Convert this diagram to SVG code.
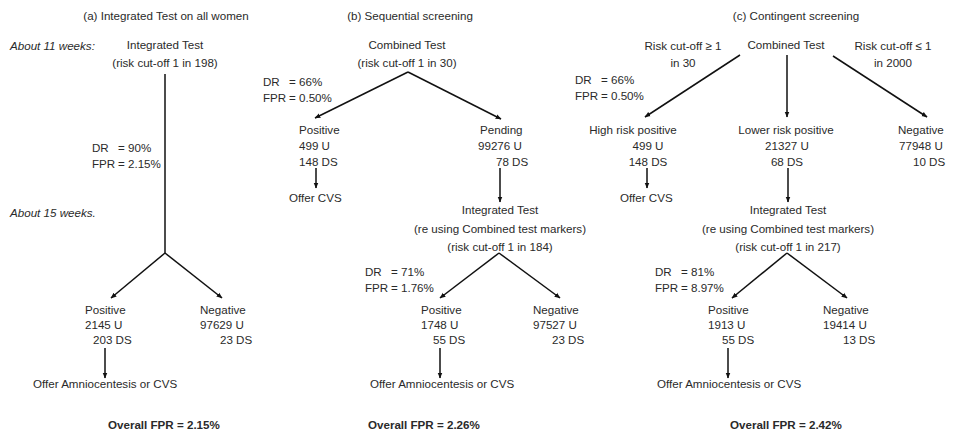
<svg xmlns="http://www.w3.org/2000/svg" width="955" height="431" viewBox="0 0 955 431">
<style>
text{font-family:"Liberation Sans",Arial,sans-serif;font-size:11.6px;fill:#2a2a2a}
.c{text-anchor:middle}
.i{font-style:italic}
.b{font-weight:bold}
.ln{stroke:#111;stroke-width:1.5;fill:none}
</style>
<defs>
<marker id="ah" viewBox="0 0 10 10" refX="9" refY="5" markerWidth="6" markerHeight="6" orient="auto" markerUnits="userSpaceOnUse">
<path d="M0,1 L10,5 L0,9 z" fill="#111"/>
</marker>
</defs>
<rect width="955" height="431" fill="#fff"/>

<g id="connectors">
<!-- (a) -->
<line class="ln" x1="165" y1="74" x2="165" y2="253"/>
<line class="ln" x1="165" y1="253" x2="111" y2="298" marker-end="url(#ah)"/>
<line class="ln" x1="165" y1="253" x2="222" y2="298" marker-end="url(#ah)"/>
<line class="ln" x1="105" y1="348" x2="105" y2="378" marker-end="url(#ah)"/>
<!-- (b) -->
<line class="ln" x1="408" y1="72" x2="315" y2="118" marker-end="url(#ah)"/>
<line class="ln" x1="408" y1="72" x2="501" y2="119" marker-end="url(#ah)"/>
<line class="ln" x1="316" y1="168" x2="316" y2="188" marker-end="url(#ah)"/>
<line class="ln" x1="500" y1="168" x2="500" y2="202" marker-end="url(#ah)"/>
<line class="ln" x1="499" y1="253" x2="440" y2="298" marker-end="url(#ah)"/>
<line class="ln" x1="499" y1="253" x2="560" y2="298" marker-end="url(#ah)"/>
<line class="ln" x1="440" y1="348" x2="440" y2="378" marker-end="url(#ah)"/>
<!-- (c) -->
<line class="ln" x1="740" y1="55" x2="645" y2="117" marker-end="url(#ah)"/>
<line class="ln" x1="787" y1="55" x2="787" y2="117" marker-end="url(#ah)"/>
<line class="ln" x1="833" y1="56" x2="927" y2="117" marker-end="url(#ah)"/>
<line class="ln" x1="647" y1="168" x2="647" y2="188" marker-end="url(#ah)"/>
<line class="ln" x1="788" y1="168" x2="788" y2="202" marker-end="url(#ah)"/>
<line class="ln" x1="787" y1="253" x2="732" y2="298" marker-end="url(#ah)"/>
<line class="ln" x1="787" y1="253" x2="847" y2="298" marker-end="url(#ah)"/>
<line class="ln" x1="728" y1="348" x2="728" y2="378" marker-end="url(#ah)"/>
</g>

<!-- Panel (a) -->
<g id="a-title"><text class="c" x="166" y="20">(a) Integrated Test on all women</text></g>
<g id="a-week11"><text class="i" x="10" y="50">About 11 weeks:</text></g>
<g id="a-test"><text class="c" x="165" y="49">Integrated Test</text><text class="c" x="165" y="67">(risk cut-off 1 in 198)</text></g>
<g id="a-rates"><text x="92" y="152">DR<tspan x="118">= 90%</tspan></text><text x="92" y="168">FPR<tspan x="118">= 2.15%</tspan></text></g>
<g id="a-week15"><text class="i" x="10" y="217">About 15 weeks.</text></g>
<g id="a-pos"><text x="85" y="314">Positive</text><text x="85" y="329">2145 U</text><text x="93" y="344">203 DS</text></g>
<g id="a-neg"><text x="200" y="314">Negative</text><text x="200" y="329">97629 U</text><text x="220" y="344">23 DS</text></g>
<g id="a-offer"><text x="33" y="388">Offer Amniocentesis or CVS</text></g>
<g id="a-overall"><text class="b" x="108" y="429">Overall FPR = 2.15%</text></g>

<!-- Panel (b) -->
<g id="b-title"><text class="c" x="410" y="20">(b) Sequential screening</text></g>
<g id="b-test"><text class="c" x="407" y="49">Combined Test</text><text class="c" x="407" y="67">(risk cut-off 1 in 30)</text></g>
<g id="b-rates1"><text x="263" y="86">DR<tspan x="289">= 66%</tspan></text><text x="263" y="102">FPR<tspan x="289">= 0.50%</tspan></text></g>
<g id="b-pos"><text x="299" y="134">Positive</text><text x="299" y="150">499 U</text><text x="299" y="166">148 DS</text></g>
<g id="b-offercvs"><text x="289" y="202">Offer CVS</text></g>
<g id="b-pend"><text x="480" y="134">Pending</text><text x="478" y="150">99276 U</text><text x="496" y="166">78 DS</text></g>
<g id="b-int"><text class="c" x="500" y="214">Integrated Test</text><text class="c" x="500" y="233">(re using Combined test markers)</text><text class="c" x="500" y="251">(risk cut-off 1 in 184)</text></g>
<g id="b-rates2"><text x="365" y="276">DR<tspan x="391">= 71%</tspan></text><text x="365" y="292">FPR<tspan x="391">= 1.76%</tspan></text></g>
<g id="b-pos2"><text x="421" y="314">Positive</text><text x="421" y="329">1748 U</text><text x="433" y="344">55 DS</text></g>
<g id="b-neg2"><text x="533" y="314">Negative</text><text x="533" y="329">97527 U</text><text x="552" y="344">23 DS</text></g>
<g id="b-offer"><text x="370" y="388">Offer Amniocentesis or CVS</text></g>
<g id="b-overall"><text class="b" x="368" y="429">Overall FPR = 2.26%</text></g>

<!-- Panel (c) -->
<g id="c-title"><text class="c" x="796" y="20">(c) Contingent screening</text></g>
<g id="c-test"><text class="c" x="786" y="49">Combined Test</text></g>
<g id="c-cut1"><text class="c" x="683" y="50">Risk cut-off ≥ 1</text><text class="c" x="683" y="67">in 30</text></g>
<g id="c-cut2"><text class="c" x="893" y="50">Risk cut-off ≤ 1</text><text class="c" x="893" y="67">in 2000</text></g>
<g id="c-rates1"><text x="575" y="84">DR<tspan x="601">= 66%</tspan></text><text x="575" y="100">FPR<tspan x="601">= 0.50%</tspan></text></g>
<g id="c-high"><text class="c" x="633" y="134">High risk positive</text><text class="c" x="648" y="150">499 U</text><text class="c" x="648" y="166">148 DS</text></g>
<g id="c-offercvs"><text x="620" y="202">Offer CVS</text></g>
<g id="c-lower"><text class="c" x="786" y="134">Lower risk positive</text><text class="c" x="787" y="150">21327 U</text><text class="c" x="787" y="166">68 DS</text></g>
<g id="c-neg"><text x="898" y="134">Negative</text><text x="899" y="150">77948 U</text><text x="913" y="166">10 DS</text></g>
<g id="c-int"><text class="c" x="788" y="214">Integrated Test</text><text class="c" x="788" y="233">(re using Combined test markers)</text><text class="c" x="788" y="251">(risk cut-off 1 in 217)</text></g>
<g id="c-rates2"><text x="655" y="276">DR<tspan x="681">= 81%</tspan></text><text x="655" y="292">FPR<tspan x="681">= 8.97%</tspan></text></g>
<g id="c-pos2"><text x="708" y="314">Positive</text><text x="708" y="329">1913 U</text><text x="722" y="344">55 DS</text></g>
<g id="c-neg2"><text x="823" y="314">Negative</text><text x="823" y="329">19414 U</text><text x="843" y="344">13 DS</text></g>
<g id="c-offer"><text x="657" y="388">Offer Amniocentesis or CVS</text></g>
<g id="c-overall"><text class="b" x="730" y="429">Overall FPR = 2.42%</text></g>
</svg>
